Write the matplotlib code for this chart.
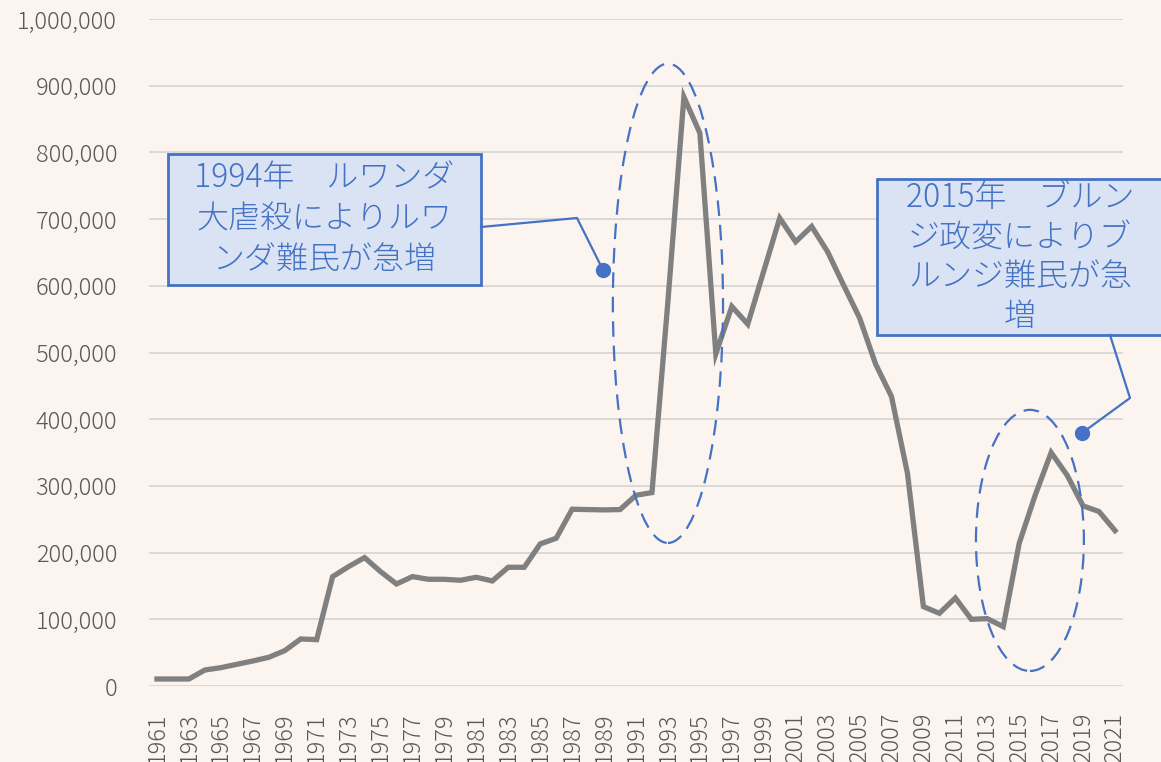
import matplotlib
matplotlib.use("Agg")
import matplotlib.pyplot as plt
from matplotlib.patches import Ellipse, Rectangle
from matplotlib.lines import Line2D
from matplotlib.ticker import FuncFormatter, MultipleLocator

plt.rcParams['font.family'] = ['Noto Sans CJK JP', 'DejaVu Sans']
plt.rcParams['font.weight'] = 'light'

# refugee numbers per year
years = list(range(1961, 2022))
refugees = [
    10500, 10500, 10500, 24000, 27500, 32500, 37500, 43000, 53000, 70500,     # 1961-1970
    69500, 164000, 179000, 192500, 171500, 153000, 164000, 160000, 160000,    # 1971-1979
    158500, 163000, 157500, 178000, 178000, 213000, 221500, 265000, 264500,   # 1980-1988
    264000, 264500, 286000, 290000, 577000, 883000, 829000, 498000, 569000,   # 1989-1997
    542500, 622000, 701500, 666000, 689000, 651000, 601000, 552000, 483000,   # 1998-2006
    434000, 319000, 119000, 109000, 132000, 100000, 101000, 89000, 214000,    # 2007-2015
    286000, 350000, 316000, 270000, 261500, 233000                            # 2016-2021
]
tick_years = years[::2]

note_rwanda = "1994年　ルワンダ\n大虐殺によりルワ\nンダ難民が急増"
note_burundi = "2015年　ブルン\nジ政変によりブ\nルンジ難民が急\n増"

W, H = 1161, 762
bg = '#FCF4EE'
blue = '#4472C4'
gray_txt = '#595959'

fig = plt.figure(figsize=(W / 100, H / 100), dpi=100, facecolor=bg)
ax = fig.add_axes([149 / W, 1 - 686 / H, (1123 - 149) / W, (686 - 19) / H])
ax.set_facecolor(bg)

ax.plot(years, refugees, color='#808080', lw=3.8, solid_joinstyle='miter', zorder=3)

ax.set_xlim(1960.5, 2021.5)
ax.set_ylim(0, 1000000)
ax.yaxis.set_major_locator(MultipleLocator(100000))
ax.yaxis.set_major_formatter(FuncFormatter(lambda v, p: f"{int(v):,}"))
ax.set_xticks(tick_years)
ax.set_xticklabels([str(y) for y in tick_years], rotation=90)
ax.tick_params(axis='y', length=0, pad=23, labelsize=17, labelcolor=gray_txt)
ax.tick_params(axis='x', length=0, pad=19, labelsize=17, labelcolor=gray_txt)
ax.grid(axis='y', color='#D9D9D9', lw=1.4)
ax.set_axisbelow(True)
for s in ax.spines.values():
    s.set_visible(False)

# dashed ellipses around the two jumps
for cx, cy, w, h in [(1993.0, 573750, 6.9, 718500), (2015.67, 218250, 6.76, 391500)]:
    ax.add_patch(Ellipse((cx, cy), w, h, fill=False, ec=blue, lw=1.6,
                         ls=(0, (7, 4)), zorder=4, clip_on=False))


def px(x, y):
    return x / W, 1 - y / H


# callout 1
xs, ys = zip(*[px(481, 227), px(577, 218), px(603, 270)])
fig.add_artist(Line2D(xs, ys, color=blue, lw=1.6))
fig.add_artist(Line2D([xs[-1]], [ys[-1]], marker='o', ms=10, color=blue))
x0, y0 = px(168, 285)
fig.add_artist(Rectangle((x0, y0), (481 - 168) / W, (285 - 154) / H,
                         fc='#DAE3F3', ec=blue, lw=2))
fig.text(*px(324.5, 219), note_rwanda, ha='center', va='center', fontsize=23,
         color=blue, linespacing=1.25)

# callout 2
xs, ys = zip(*[px(1110, 335), px(1130, 398), px(1082, 433)])
fig.add_artist(Line2D(xs, ys, color=blue, lw=1.6))
fig.add_artist(Line2D([xs[-1]], [ys[-1]], marker='o', ms=10, color=blue))
x0, y0 = px(877, 335)
fig.add_artist(Rectangle((x0, y0), (1163 - 877) / W, (335 - 179) / H,
                         fc='#DAE3F3', ec=blue, lw=2))
fig.text(*px(1020, 257), note_burundi, ha='center', va='center', fontsize=23,
         color=blue, linespacing=1.2)

fig.savefig("out.png", dpi=100, facecolor=bg)
